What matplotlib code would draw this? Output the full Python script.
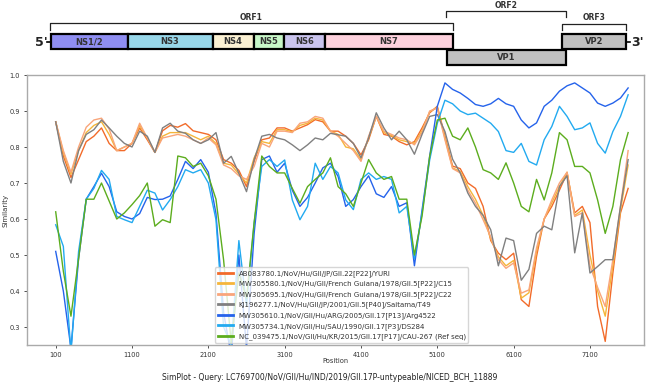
import matplotlib
matplotlib.use("Agg")
import matplotlib.pyplot as plt
from matplotlib.patches import Rectangle
import numpy as np

# ---------------- data ----------------
positions = list(range(100, 7601, 100))

labels = [
    "AB083780.1/NoV/Hu/GII/JP/GII.22[P22]/YURI",
    "MW305580.1/NoV/Hu/GII/French Guiana/1978/GII.5[P22]/C15",
    "MW305695.1/NoV/Hu/GII/French Guiana/1978/GII.5[P22]/C22",
    "KJ196277.1/NoV/Hu/GII/JP/2001/GII.5[P40]/Saitama/T49",
    "MW305610.1/NoV/GII/Hu/ARG/2005/GII.17[P13]/Arg4522",
    "MW305734.1/NoV/GII/Hu/SAU/1990/GII.17[P3]/DS284",
    "NC_039475.1/NoV/GII/Hu/KR/2015/GII.17[P17]/CAU-267 (Ref seq)",
]
colors = ["#f26b2a", "#f5b53a", "#f9a57a", "#808080", "#2563eb", "#22aaf0", "#5cad1e"]

ab083780 = [0.87, 0.775, 0.715, 0.765, 0.815, 0.83, 0.853, 0.81, 0.79, 0.79,
            0.81, 0.853, 0.82, 0.785, 0.845, 0.86, 0.855, 0.865, 0.845, 0.84,
            0.835, 0.82, 0.765, 0.755, 0.735, 0.69, 0.76, 0.82, 0.825, 0.853,
            0.853, 0.844, 0.853, 0.862, 0.876, 0.87, 0.844, 0.844, 0.83, 0.81,
            0.778, 0.82, 0.885, 0.835, 0.83, 0.815, 0.806, 0.815, 0.853, 0.895,
            0.913, 0.83, 0.747, 0.74, 0.70, 0.685, 0.635, 0.54, 0.505, 0.487,
            0.505, 0.376, 0.357, 0.496, 0.60, 0.635, 0.68, 0.728, 0.617, 0.635,
            0.59, 0.357, 0.26, 0.45, 0.617, 0.685]
mw305580 = [0.87, 0.785, 0.725, 0.79, 0.84, 0.86, 0.87, 0.835, 0.79, 0.80,
            0.81, 0.86, 0.825, 0.785, 0.83, 0.84, 0.84, 0.84, 0.83, 0.82,
            0.83, 0.81, 0.755, 0.75, 0.725, 0.70, 0.77, 0.815, 0.81, 0.848,
            0.848, 0.842, 0.86, 0.866, 0.88, 0.875, 0.844, 0.835, 0.80, 0.795,
            0.765, 0.825, 0.885, 0.84, 0.832, 0.82, 0.815, 0.81, 0.845, 0.898,
            0.91, 0.825, 0.742, 0.732, 0.69, 0.655, 0.61, 0.545, 0.495, 0.47,
            0.485, 0.38, 0.395, 0.51, 0.60, 0.645, 0.69, 0.73, 0.61, 0.625,
            0.50, 0.40, 0.33, 0.47, 0.625, 0.75]
mw305695 = [0.87, 0.79, 0.73, 0.80, 0.855, 0.875, 0.88, 0.85, 0.79, 0.80,
            0.81, 0.866, 0.825, 0.785, 0.825, 0.83, 0.835, 0.83, 0.82, 0.81,
            0.825, 0.806, 0.75, 0.74, 0.72, 0.71, 0.746, 0.81, 0.80, 0.844,
            0.844, 0.84, 0.866, 0.87, 0.885, 0.88, 0.844, 0.83, 0.81, 0.79,
            0.76, 0.83, 0.885, 0.844, 0.835, 0.825, 0.82, 0.806, 0.84, 0.90,
            0.908, 0.82, 0.74, 0.728, 0.68, 0.644, 0.598, 0.55, 0.487, 0.463,
            0.478, 0.394, 0.403, 0.52, 0.60, 0.653, 0.70, 0.73, 0.607, 0.617,
            0.47, 0.41, 0.357, 0.487, 0.635, 0.79]
kj196277 = [0.87, 0.76, 0.70, 0.79, 0.835, 0.848, 0.875, 0.853, 0.83, 0.81,
            0.80, 0.844, 0.83, 0.785, 0.853, 0.866, 0.844, 0.838, 0.82, 0.81,
            0.82, 0.84, 0.755, 0.774, 0.727, 0.676, 0.765, 0.83, 0.835, 0.825,
            0.82, 0.806, 0.79, 0.806, 0.825, 0.82, 0.838, 0.834, 0.83, 0.81,
            0.77, 0.825, 0.895, 0.853, 0.82, 0.844, 0.82, 0.78, 0.835, 0.885,
            0.89, 0.843, 0.766, 0.728, 0.672, 0.635, 0.61, 0.57, 0.47, 0.547,
            0.54, 0.43, 0.46, 0.56, 0.58, 0.57, 0.69, 0.72, 0.506, 0.617,
            0.45, 0.468, 0.487, 0.487, 0.635, 0.765]
mw305610 = [0.51, 0.40, 0.24, 0.49, 0.655, 0.69, 0.727, 0.69, 0.62, 0.607,
            0.60, 0.615, 0.66, 0.654, 0.655, 0.664, 0.71, 0.76, 0.74, 0.765,
            0.73, 0.615, 0.34, 0.22, 0.50, 0.24, 0.56, 0.765, 0.775, 0.73,
            0.755, 0.68, 0.635, 0.66, 0.70, 0.742, 0.755, 0.718, 0.635, 0.654,
            0.69, 0.72, 0.67, 0.66, 0.69, 0.635, 0.645, 0.47, 0.625, 0.775,
            0.913, 0.978, 0.96, 0.95, 0.935, 0.918, 0.913, 0.92, 0.935, 0.92,
            0.913, 0.875, 0.853, 0.867, 0.913, 0.93, 0.955, 0.97, 0.978, 0.964,
            0.95, 0.922, 0.913, 0.922, 0.936, 0.964]
mw305734 = [0.584, 0.524, 0.23, 0.51, 0.655, 0.685, 0.735, 0.71, 0.607, 0.598,
            0.59, 0.635, 0.68, 0.672, 0.625, 0.654, 0.69, 0.737, 0.728, 0.737,
            0.70, 0.598, 0.30, 0.25, 0.54, 0.36, 0.59, 0.746, 0.765, 0.746,
            0.764, 0.653, 0.598, 0.635, 0.755, 0.71, 0.746, 0.728, 0.653, 0.626,
            0.71, 0.728, 0.71, 0.718, 0.71, 0.617, 0.635, 0.49, 0.617, 0.764,
            0.866, 0.93, 0.92, 0.90, 0.89, 0.894, 0.88, 0.866, 0.843, 0.79,
            0.785, 0.81, 0.76, 0.75, 0.82, 0.857, 0.913, 0.885, 0.848, 0.853,
            0.867, 0.81, 0.783, 0.843, 0.885, 0.945]
nc039475 = [0.62, 0.455, 0.33, 0.49, 0.655, 0.655, 0.70, 0.65, 0.60, 0.617,
            0.64, 0.665, 0.70, 0.58, 0.598, 0.59, 0.775, 0.77, 0.746, 0.755,
            0.72, 0.655, 0.486, 0.255, 0.45, 0.38, 0.59, 0.775, 0.746, 0.728,
            0.728, 0.685, 0.644, 0.69, 0.71, 0.728, 0.77, 0.69, 0.67, 0.635,
            0.70, 0.765, 0.728, 0.71, 0.718, 0.655, 0.655, 0.50, 0.608, 0.774,
            0.875, 0.88, 0.83, 0.82, 0.853, 0.80, 0.737, 0.728, 0.71, 0.756,
            0.70, 0.635, 0.62, 0.71, 0.653, 0.728, 0.84, 0.82, 0.746, 0.746,
            0.728, 0.653, 0.56, 0.635, 0.765, 0.84]
series = [ab083780, mw305580, mw305695, kj196277, mw305610, mw305734, nc039475]

xticks = [100, 1100, 2100, 3100, 4100, 5100, 6100, 7100]
yticks = [0.3, 0.4, 0.5, 0.6, 0.7, 0.8, 0.9, 1.0]

# genome map (in figure pixel units)
genes = ["NS1/2", "NS3", "NS4", "NS5", "NS6", "NS7"]
gene_start = [50.5, 127.5, 212.5, 253.5, 284, 324.5]
gene_end = [127.5, 212.5, 253.5, 284, 324.5, 453]
gene_colors = ["#8f8ef2", "#98d7e9", "#fbf1d3", "#c8f7c8", "#cac4ee", "#fdd1dd"]
vp_names = ["VP1", "VP2"]
vp_start = [447, 562]
vp_end = [566, 626]
orf_names = ["ORF1", "ORF2", "ORF3"]
orf_start = [50, 446, 562]
orf_end = [453, 566, 626]

# ---------------- figure ----------------
W, H = 660, 384
fig = plt.figure(figsize=(W / 100, H / 100), dpi=100)

ax = fig.add_axes([27 / W, 1 - 345 / H, (644 - 27) / W, (345 - 75) / H])
for s, c, lab in zip(series, colors, labels):
    ax.plot(positions, s, color=c, lw=1.0, label=lab)
ax.set_xlim(-276, 7808)
ax.set_ylim(0.25, 1.0)
ax.set_xticks(xticks)
ax.set_yticks(yticks)
ax.tick_params(labelsize=4.8, colors="#333333", length=2.5, width=0.6, pad=2.5)
for sp in ax.spines.values():
    sp.set_color("#aaaaaa")
    sp.set_linewidth(1.0)
ax.set_xlabel("Position", fontsize=4.8, color="#333333")
ax.set_ylabel("Similarity", fontsize=5.0, color="#333333")
ax.xaxis.set_label_coords(0.5, -13 / 270)
ax.yaxis.set_label_coords(-18.5 / 617, 0.5)
leg = ax.legend(loc="lower center", bbox_to_anchor=(0.51, -0.005), fontsize=5.0,
                frameon=True, framealpha=0.8, edgecolor="#cccccc",
                borderpad=0.4, labelspacing=0.55, handlelength=2.2)
for t in leg.get_texts():
    t.set_color("#333333")
for h in leg.get_lines():
    h.set_linewidth(2.0)

fig.text(0.5, 1 - 377 / H,
         "SimPlot - Query: LC769700/NoV/GII/Hu/IND/2019/GII.17P-untypeable/NICED_BCH_11889",
         ha="center", va="center", fontsize=5.5, color="#222222")

# genome map axes
gx = fig.add_axes([0, 1 - 70 / H, 1, 70 / H])
gx.set_xlim(0, W)
gx.set_ylim(70, 0)
gx.axis("off")

for name, s, e, c in zip(genes, gene_start, gene_end, gene_colors):
    gx.add_patch(Rectangle((s, 34), e - s, 15, facecolor=c, edgecolor="black", lw=1.6))
    gx.text((s + e) / 2, 41.8, name, ha="center", va="center", fontsize=6,
            fontweight="bold", color="#333333")
vp_rows = [50, 34]
for name, s, e, y in zip(vp_names, vp_start, vp_end, vp_rows):
    gx.add_patch(Rectangle((s, y), e - s, 15, facecolor="#c0c0c0", edgecolor="black", lw=1.6))
    gx.text((s + e) / 2, y + 7.8, name, ha="center", va="center", fontsize=6,
            fontweight="bold", color="#333333")

bracket_top = [23, 11, 23.5]
bracket_bot = [29.5, 17, 29.5]
for name, s, e, t, b in zip(orf_names, orf_start, orf_end, bracket_top, bracket_bot):
    gx.plot([s, s, e, e], [b, t, t, b], color="#222222", lw=0.9)
    gx.text((s + e) / 2, t - 6, name, ha="center", va="center", fontsize=5.5,
            fontweight="bold", color="#333333")

gx.text(41, 42, "5'", ha="center", va="center", fontsize=9, fontweight="bold", color="#222222")
gx.plot([47, 50], [42, 42], color="black", lw=1.2)
gx.plot([626, 630], [42, 42], color="black", lw=1.2)
gx.text(637, 42, "3'", ha="center", va="center", fontsize=9, fontweight="bold", color="#222222")

fig.savefig("out.png", dpi=100)
